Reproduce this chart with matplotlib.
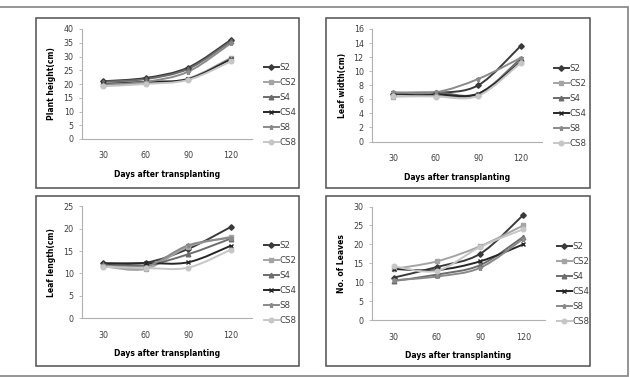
import matplotlib.pyplot as plt
import numpy as np
from matplotlib.path import Path
from matplotlib.patches import PathPatch, Rectangle
from matplotlib.lines import Line2D

# data
days = ['30', '60', '90', '120']
series = ['S2', 'CS2', 'S4', 'CS4', 'S8', 'CS8']

plant_height = {
    'S2': [21.0, 22.2, 26.0, 36.0],
    'CS2': [19.5, 20.3, 22.0, 29.5],
    'S4': [20.8, 21.8, 25.5, 35.5],
    'CS4': [20.0, 20.8, 21.8, 29.0],
    'S8': [19.8, 20.8, 24.5, 34.8],
    'CS8': [19.2, 20.0, 21.5, 28.2],
}
leaf_width = {
    'S2': [6.8, 6.9, 8.0, 13.6],
    'CS2': [6.4, 6.5, 6.6, 11.5],
    'S4': [6.9, 7.0, 6.8, 11.8],
    'CS4': [6.6, 6.7, 6.8, 11.3],
    'S8': [7.0, 7.0, 8.9, 11.9],
    'CS8': [6.5, 6.4, 6.5, 11.2],
}
leaf_length = {
    'S2': [12.3, 12.4, 15.5, 20.4],
    'CS2': [11.6, 11.0, 16.0, 18.2],
    'S4': [12.0, 11.8, 14.3, 17.8],
    'CS4': [12.2, 12.3, 12.5, 16.2],
    'S8': [11.8, 11.5, 16.3, 18.0],
    'CS8': [11.5, 11.2, 11.3, 15.3],
}
leaves = {
    'S2': [11.2, 14.0, 17.5, 27.8],
    'CS2': [13.5, 15.5, 19.5, 25.0],
    'S4': [10.3, 12.0, 14.5, 22.0],
    'CS4': [13.5, 13.2, 15.5, 20.0],
    'S8': [10.5, 11.5, 13.8, 21.5],
    'CS8': [14.2, 13.0, 19.3, 24.0],
}

colors = {'S2': '#3a3a3a', 'CS2': '#a4a4a4', 'S4': '#6c6c6c',
          'CS4': '#262626', 'S8': '#8a8a8a', 'CS8': '#c6c6c6'}
markers = {'S2': 'D', 'CS2': 's', 'S4': '^', 'CS4': 'x', 'S8': '*', 'CS8': 'o'}
msizes = {'S2': 2.8, 'CS2': 3.3, 'S4': 3.3, 'CS4': 3.3, 'S8': 3.6, 'CS8': 3.3}

W, H = 630, 377
fig = plt.figure(figsize=(W / 100, H / 100), dpi=100)


def px(x0, y0, x1, y1):
    # pixel box (top-left origin) -> figure fraction rect
    return [x0 / W, 1 - y1 / H, (x1 - x0) / W, (y1 - y0) / H]


def smooth_path(x, y):
    # Excel-like smoothed line as cubic bezier segments
    pts = np.column_stack([x, y]).astype(float)
    n = len(pts)
    verts = [pts[0]]
    codes = [Path.MOVETO]
    for i in range(n - 1):
        p0 = pts[max(i - 1, 0)]
        p1 = pts[i]
        p2 = pts[i + 1]
        p3 = pts[min(i + 2, n - 1)]
        c1 = p1 + (p2 - p0) / 6
        c2 = p2 - (p3 - p1) / 6
        verts += [c1, c2, p2]
        codes += [Path.CURVE4] * 3
    return Path(verts, codes)


# outer frame
fig.patches.append(Rectangle((-5 / W, 1 - 376 / H), 632.5 / W, 369.5 / H,
                             transform=fig.transFigure, fill=False,
                             edgecolor='#8c8c8c', linewidth=1.3))

panels = [
    (plant_height, 'Plant height(cm)', 40, 5, (36, 18, 299, 188), (82, 29, 252, 139)),
    (leaf_width, 'Leaf width(cm)', 16, 2, (326, 18, 590, 188), (372, 29, 542, 141.5)),
    (leaf_length, 'Leaf length(cm)', 25, 5, (36, 196, 299, 366), (82, 206.5, 252, 318)),
    (leaves, 'No. of Leaves', 30, 5, (326, 196, 590, 366), (372, 206.5, 545, 320)),
]

for data, ylabel, ymax, ystep, box, area in panels:
    bx0, by0, bx1, by1 = box
    fig.patches.append(Rectangle((bx0 / W, 1 - by1 / H), (bx1 - bx0) / W,
                                 (by1 - by0) / H, transform=fig.transFigure,
                                 fill=False, edgecolor='#505050', linewidth=1.1))
    ax = fig.add_axes(px(*area))
    x = np.arange(len(days))
    handles = []
    for s in series:
        vals = data[s]
        ax.add_patch(PathPatch(smooth_path(x, vals), facecolor='none',
                               edgecolor=colors[s], linewidth=1.4, zorder=2))
        ax.plot(x, vals, linestyle='none', marker=markers[s], ms=msizes[s],
                color=colors[s], mew=1.0, zorder=3)
        handles.append(Line2D([], [], color=colors[s], lw=1.4,
                              marker=markers[s], ms=msizes[s], mew=1.0))
    ax.set_xlim(-0.5, len(days) - 0.5)
    ax.set_ylim(0, ymax)
    ax.set_yticks(np.arange(0, ymax + 0.1, ystep))
    ax.set_xticks(x)
    ax.set_xticklabels(days)
    for sp in ['top', 'right']:
        ax.spines[sp].set_visible(False)
    for sp in ['left', 'bottom']:
        ax.spines[sp].set_color('#b0b0b0')
        ax.spines[sp].set_linewidth(0.8)
    ax.tick_params(axis='y', length=2, width=0.6, color='#b0b0b0',
                   labelsize=5.8, labelcolor='#404040', pad=4)
    ax.tick_params(axis='x', length=0, labelsize=5.8, labelcolor='#404040', pad=9)
    ax.set_ylabel(ylabel, fontsize=5.5, fontweight='bold', labelpad=5)
    ax.set_xlabel('Days after transplanting', fontsize=5.5, fontweight='bold',
                  labelpad=7)
    ax.legend(handles, series, loc='upper left', bbox_to_anchor=(1.05, 0.72),
              frameon=False, fontsize=6.2, labelcolor='#404040', handlelength=1.7,
              handletextpad=0.1, labelspacing=0.7, borderaxespad=0)

fig.savefig('out.png', dpi=100)
